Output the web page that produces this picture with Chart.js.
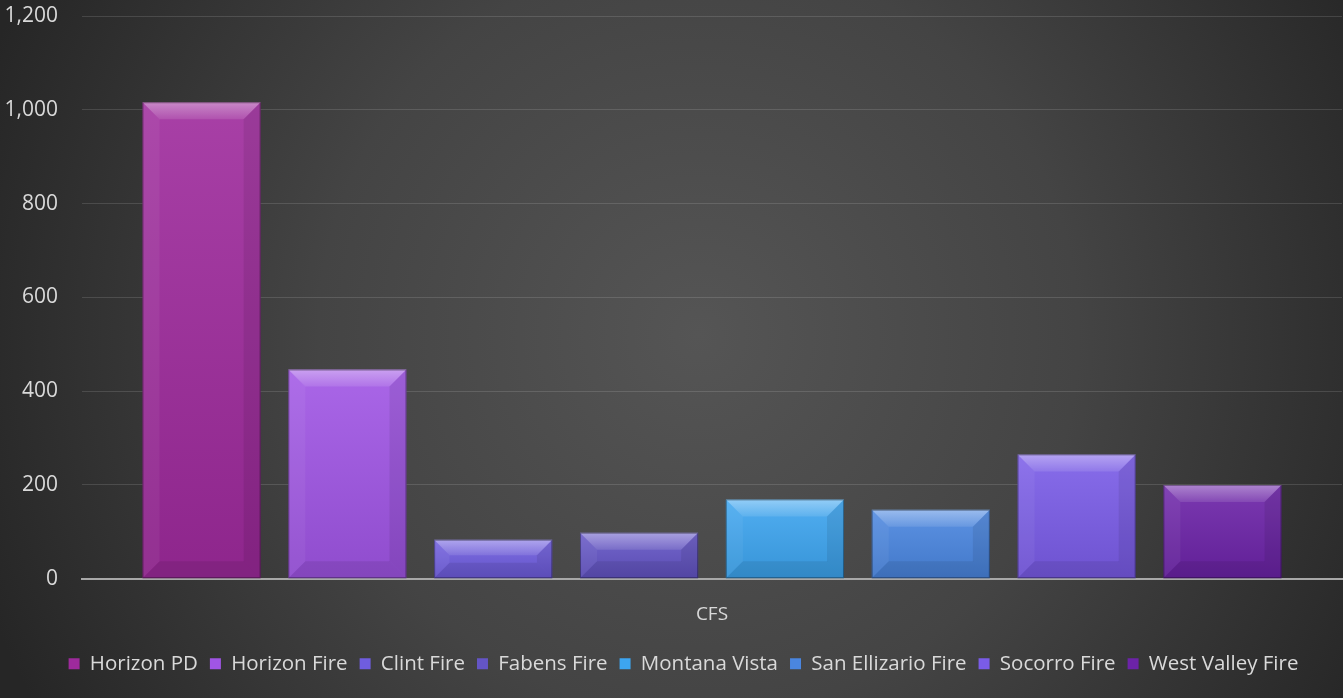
<!DOCTYPE html>
<html>
<head>
<meta charset="utf-8">
<script src="https://cdn.jsdelivr.net/npm/chart.js@4.4.1/dist/chart.umd.min.js"></script>
<style>
  html, body { margin: 0; padding: 0; background: #2a2a2a; }
  #wrap { width: 1343px; height: 698px; }
</style>
</head>
<body>
<div id="wrap"><canvas id="c" width="1343" height="698"></canvas></div>
<script>
const categories = ['CFS'];
const seriesNames = ['Horizon PD', 'Horizon Fire', 'Clint Fire', 'Fabens Fire', 'Montana Vista', 'San Ellizario Fire', 'Socorro Fire', 'West Valley Fire'];
const seriesValues = [1016, 446, 83, 98, 169, 147, 265, 200];
const seriesColors = ['#9e2a9c', '#a055e5', '#6f5ddf', '#6455c6', '#3da5f0', '#4a86e0', '#7a5ce8', '#6c23a8'];
const yTicks = [0, 200, 400, 600, 800, 1000, 1200];

const FONT = "'Open Sans', 'DejaVu Sans', sans-serif";

const bgPlugin = {
  id: 'bg',
  beforeDraw(chart) {
    const { ctx, width, height } = chart;
    ctx.save();
    const cx = width * 0.52, cy = height * 0.48;
    const g = ctx.createRadialGradient(cx, cy, 0, cx, cy, 760);
    g.addColorStop(0, '#555555');
    g.addColorStop(0.5, '#444444');
    g.addColorStop(1, '#262626');
    ctx.fillStyle = g;
    ctx.fillRect(0, 0, width, height);
    ctx.restore();
  }
};

const legendShift = {
  id: 'legendShift',
  afterLayout(chart) {
    const lg = chart.legend;
    if (lg) { lg.left += 10; lg.right += 10; }
  }
};

const bevelPlugin = {
  id: 'bevel',
  afterDatasetsDraw(chart) {
    const ctx = chart.ctx;
    chart.data.datasets.forEach((ds, i) => {
      const meta = chart.getDatasetMeta(i);
      meta.data.forEach(bar => {
        const { x, y, base, width } = bar.getProps(['x', 'y', 'base', 'width'], true);
        const l = x - width / 2, r = x + width / 2, t = y, b = base;
        const h = b - t;
        const bv = Math.min(17, width / 6, h / 2.5);
        ctx.save();
        const vg = ctx.createLinearGradient(0, t, 0, b);
        vg.addColorStop(0, 'rgba(255,255,255,0.10)');
        vg.addColorStop(1, 'rgba(0,0,0,0.10)');
        ctx.fillStyle = vg;
        ctx.fillRect(l, t, width, h);
        const tg = ctx.createLinearGradient(0, t, 0, t + bv);
        tg.addColorStop(0, 'rgba(255,255,255,0.38)');
        tg.addColorStop(1, 'rgba(255,255,255,0.10)');
        ctx.fillStyle = tg;
        ctx.beginPath();
        ctx.moveTo(l, t); ctx.lineTo(r, t); ctx.lineTo(r - bv, t + bv); ctx.lineTo(l + bv, t + bv); ctx.closePath();
        ctx.fill();
        ctx.fillStyle = 'rgba(255,255,255,0.05)';
        ctx.beginPath();
        ctx.moveTo(l, t); ctx.lineTo(l + bv, t + bv); ctx.lineTo(l + bv, b - bv); ctx.lineTo(l, b); ctx.closePath();
        ctx.fill();
        ctx.fillStyle = 'rgba(0,0,0,0.08)';
        ctx.beginPath();
        ctx.moveTo(r, t); ctx.lineTo(r - bv, t + bv); ctx.lineTo(r - bv, b - bv); ctx.lineTo(r, b); ctx.closePath();
        ctx.fill();
        ctx.fillStyle = 'rgba(0,0,0,0.08)';
        ctx.beginPath();
        ctx.moveTo(l, b); ctx.lineTo(l + bv, b - bv); ctx.lineTo(r - bv, b - bv); ctx.lineTo(r, b); ctx.closePath();
        ctx.fill();
        ctx.strokeStyle = 'rgba(0,0,0,0.35)';
        ctx.lineWidth = 1;
        ctx.strokeRect(l + 0.5, t + 0.5, width - 1, h - 1);
        ctx.restore();
      });
    });
  }
};

const datasets = seriesNames.map((name, i) => ({
  label: name,
  data: [seriesValues[i]],
  backgroundColor: seriesColors[i],
  borderWidth: 0,
  categoryPercentage: 0.926,
  barPercentage: 0.81
}));

new Chart(document.getElementById('c'), {
  type: 'bar',
  data: { labels: categories, datasets },
  options: {
    responsive: false,
    animation: false,
    layout: { padding: { left: 5, right: 1, top: 0, bottom: 14 } },
    plugins: {
      tooltip: { enabled: false },
      legend: {
        position: 'bottom',
        labels: {
          color: '#d9d9d9',
          font: { family: FONT, size: 20.5 },
          boxWidth: 11,
          boxHeight: 11,
          padding: 12
        }
      }
    },
    scales: {
      x: {
        grid: { display: false },
        border: { color: '#a8a8a8', width: 2 },
        ticks: { color: '#d9d9d9', font: { family: FONT, size: 19 }, padding: 16 }
      },
      y: {
        min: 0,
        max: 1200,
        afterBuildTicks(scale) { scale.ticks = yTicks.map(v => ({ value: v })); },
        afterFit(scale) { scale.width = 77; scale.paddingTop = 16; scale.paddingBottom = 0; },
        grid: { color: 'rgba(255,255,255,0.13)', drawTicks: false },
        border: { display: false },
        ticks: { color: '#d9d9d9', font: { family: FONT, size: 21 }, padding: 24,
                 callback: v => v.toLocaleString('en-US') }
      }
    }
  },
  plugins: [bgPlugin, legendShift, bevelPlugin]
});
</script>
</body>
</html>
